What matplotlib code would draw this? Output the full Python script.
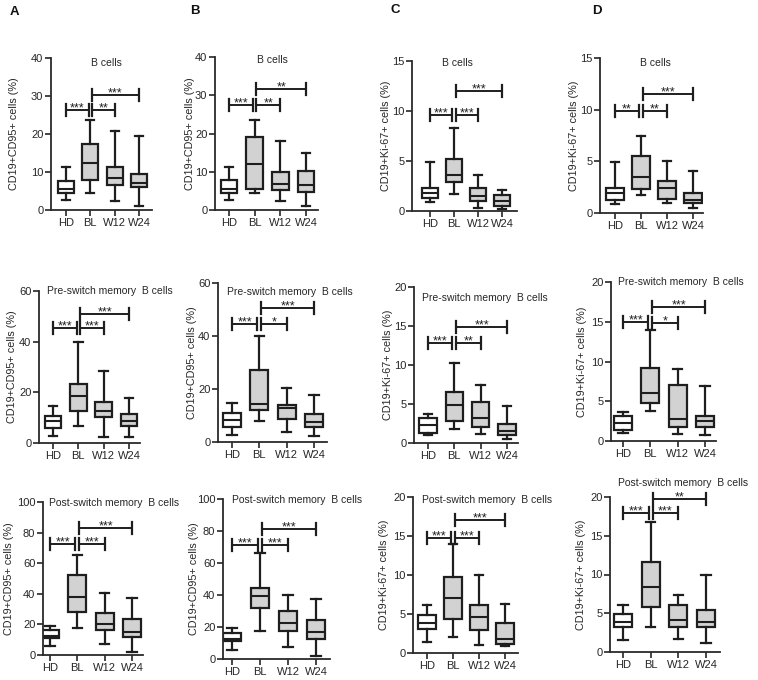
import matplotlib
matplotlib.use("Agg")
import matplotlib.pyplot as plt
import matplotlib.transforms as mtransforms

plt.rcParams['font.family'] = ['Liberation Sans', 'DejaVu Sans']

categories = ["HD", "BL", "W12", "W24"]

# five-number summaries per group: [whislo, q1, median, q3, whishi]
A1_stats = [[2.6, 4.6, 5.6, 7.7, 11.3], [4.6, 7.8, 12.4, 17.5, 23.8], [2.3, 6.5, 8.5, 11.2, 20.8], [1.0, 6.0, 7.1, 9.5, 19.6]]
B1_stats = [[2.5, 4.5, 5.6, 7.8, 11.2], [4.5, 5.6, 11.9, 19.2, 23.4], [2.4, 5.1, 6.9, 10.0, 18.0], [1.0, 4.7, 6.5, 10.2, 15.0]]
C1_stats = [[0.9, 1.26, 1.8, 2.3, 4.9], [1.7, 2.9, 3.6, 5.2, 8.3], [0.27, 1.0, 1.5, 2.3, 3.6], [0.17, 0.5, 1.0, 1.6, 2.1]]
D1_stats = [[0.9, 1.3, 1.9, 2.4, 4.9], [1.7, 2.3, 3.5, 5.5, 7.5], [1.0, 1.4, 2.4, 3.1, 5.0], [0.5, 1.0, 1.3, 1.9, 4.1]]
A2_stats = [[2.6, 5.8, 8.6, 10.5, 14.7], [6.6, 12.8, 18.4, 23.4, 39.9], [2.4, 10.1, 12.5, 16.1, 28.6], [2.2, 6.6, 8.6, 11.4, 17.8]]
B2_stats = [[2.7, 5.8, 8.3, 10.9, 14.6], [8.0, 12.1, 14.4, 27.0, 40.0], [3.8, 8.7, 13.0, 14.0, 20.2], [2.3, 5.8, 7.7, 10.5, 17.8]]
C2_stats = [[1.0, 1.3, 2.35, 3.25, 3.76], [1.8, 2.8, 4.9, 6.5, 10.3], [1.1, 2.0, 3.2, 5.3, 7.5], [0.47, 1.0, 1.6, 2.5, 4.7]]
D2_stats = [[1.0, 1.35, 2.3, 3.2, 3.65], [3.8, 4.8, 6.0, 9.2, 13.9], [0.9, 1.8, 2.8, 7.1, 9.0], [0.7, 1.8, 2.5, 3.2, 6.9]]
A3_stats = [[5.9, 10.9, 12.6, 16.3, 19.2], [17.9, 28.3, 38.1, 52.3, 65.4], [7.4, 16.3, 20.5, 27.2, 40.7], [1.7, 12.0, 15.2, 23.5, 37.5]]
B3_stats = [[5.6, 11.0, 12.3, 16.5, 19.4], [17.7, 31.7, 39.4, 44.2, 66.5], [7.7, 17.5, 22.3, 30.0, 40.2], [2.1, 12.5, 17.1, 24.4, 37.7]]
C3_stats = [[1.4, 3.1, 3.8, 4.9, 6.1], [2.1, 4.4, 7.1, 9.8, 14.0], [1.0, 3.0, 4.6, 6.2, 10.0], [0.85, 1.2, 1.8, 3.8, 6.3]]
D3_stats = [[1.5, 3.2, 3.85, 4.9, 6.1], [3.2, 5.8, 8.4, 11.6, 16.8], [1.7, 3.2, 4.1, 6.1, 7.4], [1.2, 3.2, 3.9, 5.4, 9.9]]

# significance annotations: HD-BL, BL-W12, BL-W24
A1_sig, A1_sig_y = ["***", "**", "***"], [26.4, 26.4, 30.3]
B1_sig, B1_sig_y = ["***", "**", "**"], [27.4, 27.4, 31.6]
C1_sig, C1_sig_y = ["***", "***", "***"], [9.6, 9.6, 12.0]
D1_sig, D1_sig_y = ["**", "**", "***"], [9.9, 9.9, 11.5]
A2_sig, A2_sig_y = ["***", "***", "***"], [45.3, 45.3, 50.9]
B2_sig, B2_sig_y = ["***", "*", "***"], [44.7, 44.7, 50.5]
C2_sig, C2_sig_y = ["***", "**", "***"], [12.8, 12.8, 14.9]
D2_sig, D2_sig_y = ["***", "*", "***"], [15.0, 14.8, 16.9]
A3_sig, A3_sig_y = ["***", "***", "***"], [72.3, 72.3, 83.0]
B3_sig, B3_sig_y = ["***", "***", "***"], [71.3, 71.3, 81.3]
C3_sig, C3_sig_y = ["***", "***", "***"], [14.8, 14.8, 17.0]
D3_sig, D3_sig_y = ["***", "***", "**"], [18.0, 18.0, 19.8]

ylabel_cd95 = "CD19+CD95+ cells (%)"
ylabel_ki67 = "CD19+Ki-67+ cells (%)"
title_b = "B cells"
title_pre = "Pre-switch memory  B cells"
title_post = "Post-switch memory  B cells"

W, H = 758, 680
fig = plt.figure(figsize=(W / 100, H / 100), dpi=100)
fig.patch.set_facecolor("white")

EDGE = "#1e1e1e"
GREY = "#d2d2d2"
TXT = "#262626"


def add_panel(L, R, y0, ytop, hd, w24, ymax, ystep, stats, sig, sig_y, ylabel, lx,
              title, tx, ty, tha):
    ax = fig.add_axes([L / W, 1 - y0 / H, (R - L) / W, (y0 - ytop) / H])
    s = (w24 - hd) / 3
    ax.set_xlim((L - hd) / s, 3 + (R - w24) / s)
    ax.set_ylim(0, ymax)
    ax.patch.set_alpha(0)
    bs = []
    for st in stats:
        bs.append(dict(whislo=st[0], q1=st[1], med=st[2], q3=st[3], whishi=st[4], fliers=[]))
    arts = ax.bxp(bs, positions=range(4), widths=0.66, patch_artist=True,
                  showfliers=False,
                  boxprops=dict(edgecolor=EDGE, linewidth=1.6),
                  whiskerprops=dict(color=EDGE, linewidth=1.6),
                  capprops=dict(color=EDGE, linewidth=1.6),
                  medianprops=dict(color=EDGE, linewidth=1.5))
    for i, b in enumerate(arts['boxes']):
        b.set_facecolor("white" if i == 0 else GREY)
    # significance brackets
    px = (y0 - ytop) / ymax  # pixels per unit
    h = 6 / px
    pairs = [(0 + 0.0, 1 - 0.07), (1 + 0.07, 2), (1 + 0.07, 3)]
    for (x1, x2), lab, y in zip(pairs, sig, sig_y):
        ax.plot([x1, x2], [y, y], color=EDGE, lw=1.4, solid_capstyle='butt', clip_on=False)
        ax.plot([x1, x1], [y - h, y + h], color=EDGE, lw=1.6, clip_on=False)
        ax.plot([x2, x2], [y - h, y + h], color=EDGE, lw=1.6, clip_on=False)
        ax.text((x1 + x2) / 2, y - 1.5 / px, lab, ha='center', va='baseline',
                fontsize=9, color=EDGE, clip_on=False)
    for sp in ['top', 'right']:
        ax.spines[sp].set_visible(False)
    for sp in ['left', 'bottom']:
        ax.spines[sp].set_color("#2a2a2a")
        ax.spines[sp].set_linewidth(1.3)
    ax.set_yticks([v * ystep for v in range(int(round(ymax / ystep)) + 1)])
    ax.set_xticks(range(4))
    ax.set_xticklabels(categories)
    ax.tick_params(direction='out', length=4, width=1.2, labelsize=8,
                   colors=TXT, pad=1.5)
    ax.set_ylabel(ylabel, fontsize=7.8, color=TXT)
    trans = mtransforms.blended_transform_factory(fig.transFigure, ax.transAxes)
    ax.yaxis.set_label_coords((lx + 5) / W, 0.5, transform=trans)
    fig.text(tx / W, 1 - ty / H, title, ha=tha, va='center', fontsize=7.5, color=TXT)
    return ax


add_panel(51, 152, 210, 58, 66, 139, 40, 10, A1_stats, A1_sig, A1_sig_y, ylabel_cd95, 14, title_b, 106, 63, 'center')
add_panel(215, 318, 210, 57, 229, 306, 40, 10, B1_stats, B1_sig, B1_sig_y, ylabel_cd95, 190, title_b, 272, 60, 'center')
add_panel(412, 517, 211, 61, 430, 502, 15, 5, C1_stats, C1_sig, C1_sig_y, ylabel_ki67, 386, title_b, 457, 63, 'center')
add_panel(600, 703, 213, 58, 615, 693, 15, 5, D1_stats, D1_sig, D1_sig_y, ylabel_ki67, 574, title_b, 655, 63, 'center')

add_panel(39, 140, 443, 291, 53, 129, 60, 20, A2_stats, A2_sig, A2_sig_y, ylabel_cd95, 12, title_pre, 47, 291, 'left')
add_panel(218, 327, 442, 283, 232, 314, 60, 20, B2_stats, B2_sig, B2_sig_y, ylabel_cd95, 192, title_pre, 227, 292, 'left')
add_panel(414, 518, 443, 287, 428, 507, 20, 5, C2_stats, C2_sig, C2_sig_y, ylabel_ki67, 388, title_pre, 422, 298, 'left')
add_panel(611, 716, 441, 282, 623, 705, 20, 5, D2_stats, D2_sig, D2_sig_y, ylabel_ki67, 582, title_pre, 618, 282, 'left')

add_panel(43, 143, 655, 502, 50, 132, 100, 20, A3_stats, A3_sig, A3_sig_y, ylabel_cd95, 9, title_post, 49, 503, 'left')
add_panel(223, 330, 659, 499, 232, 316, 100, 20, B3_stats, B3_sig, B3_sig_y, ylabel_cd95, 194, title_post, 232, 500, 'left')
add_panel(413, 518, 653, 497, 427, 505, 20, 5, C3_stats, C3_sig, C3_sig_y, ylabel_ki67, 384, title_post, 422, 500, 'left')
add_panel(610, 720, 652, 497, 623, 706, 20, 5, D3_stats, D3_sig, D3_sig_y, ylabel_ki67, 581, title_post, 618, 483, 'left')

for lab, x, y in [("A", 14, 12), ("B", 195, 11), ("C", 395, 10), ("D", 597, 11)]:
    fig.text(x / W, 1 - y / H, lab, ha='center', va='center', fontsize=9.5, fontweight='bold', color="#111")

fig.savefig("out.png", dpi=100)
